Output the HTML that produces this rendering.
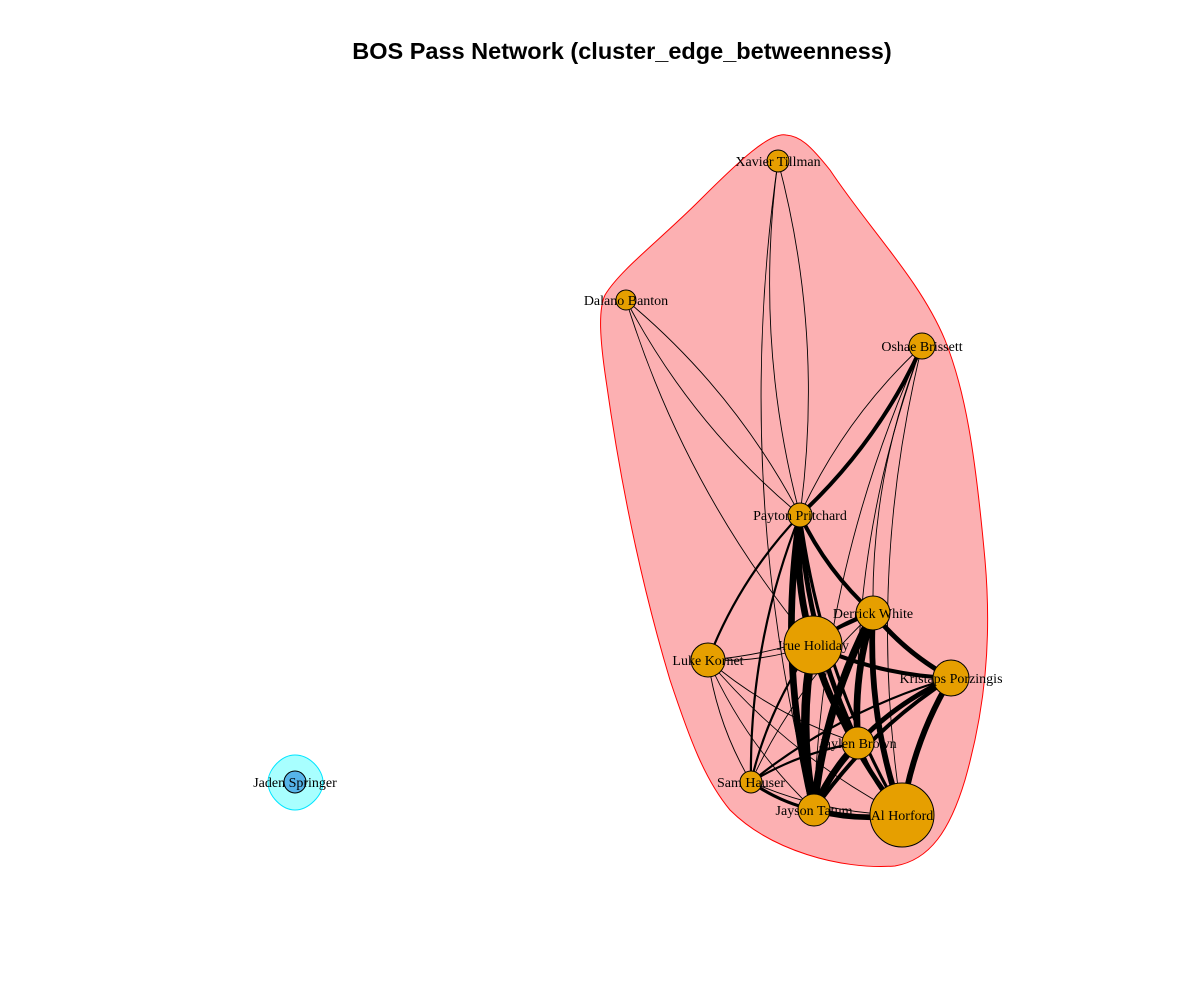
<!DOCTYPE html>
<html><head><meta charset="utf-8"><style>
body{margin:0;background:#fff}
svg{display:block}
text{font-family:"Liberation Serif",serif}
</style></head><body>
<svg id="net" width="1200" height="1000" viewBox="0 0 1200 1000">
<text x="622" y="59" text-anchor="middle" style="font-family:'Liberation Sans',sans-serif;font-weight:bold;font-size:23.5px">BOS Pass Network (cluster_edge_betweenness)</text>
<path fill="#FCB0B2" stroke="#FF0000" stroke-width="1" d="M786,135 C770,132 740,160 700,200 C660,240 620,270 605,295 C598,310 600,340 606,380 C620,480 640,580 670,680 C690,740 705,780 730,810 C770,850 840,870 895,866 C930,860 950,830 965,780 C985,710 992,640 985,560 C975,450 965,390 945,340 C920,280 870,230 830,170 C810,145 800,136 786,135 Z"/>
<path fill="#A8FFFF" stroke="#00E5FF" stroke-width="1" d="M295,755 C310,755 323,770 323,782 C323,796 308,810 295,810 C282,810 268,796 268,782 C268,770 281,755 295,755 Z"/>
<g id="edges"></g>
<g id="nodes"></g>
</svg>
<script>
const names=["Xavier Tillman","Dalano Banton","Oshae Brissett","Payton Pritchard","Derrick White","Jrue Holiday","Luke Kornet","Kristaps Porzingis","Jaylen Brown","Sam Hauser","Jayson Tatum","Al Horford","Jaden Springer"];
const nodeX=[778,626,922,800,873,813,708,951,858,751,814,902,295];
const nodeY=[161,300,346,515,613,645,660,678,743,782,810,815,782];
const nodeSize=[11,10,13,12,17,29,17,18,16,11,16,32,11];
const cluster=[0,0,0,0,0,0,0,0,0,0,0,0,1];
// [from, to, passes-weight]
const edgeFrom=[0,3,1,3,2,3,2,2,3,3,3,3,3,3,3,4,4,4,4,4,5,5,5,5,5,6,6,6,6,6,7,7,7,7,8,8,8,9,9,10,0,2,2,4,6,1];
const edgeTo  =[3,0,3,1,3,2,8,11,5,10,8,4,11,9,6,5,8,10,11,7,10,8,11,7,9,9,10,5,11,8,8,11,10,9,10,11,9,10,11,11,10,10,4,9,4,5];
const edgeW   =[1,1,1,1,1,4,1,1,7,7,5,4,3,2,2,4,7,8,6,5,9,7,5,4,2,1,1,1,1,1,5,6,4,2,7,4,2,3,1,6,1,1,1,1,1,1];
const ns="http://www.w3.org/2000/svg";
const eg=document.getElementById('edges'), ng=document.getElementById('nodes');
for(let i=0;i<edgeFrom.length;i++){
  const a=edgeFrom[i], b=edgeTo[i];
  const x1=nodeX[a],y1=nodeY[a],x2=nodeX[b],y2=nodeY[b];
  const dx=x2-x1,dy=y2-y1;
  const mx=(x1+x2)/2-dy*0.1, my=(y1+y2)/2+dx*0.1;
  const p=document.createElementNS(ns,'path');
  p.setAttribute('d',`M${x1},${y1} Q${mx},${my} ${x2},${y2}`);
  p.setAttribute('fill','none');p.setAttribute('stroke','#000');
  p.setAttribute('stroke-width',edgeW[i]===1?0.9:0.4+edgeW[i]*0.9);
  
  
  eg.appendChild(p);
}
for(let i=0;i<names.length;i++){
  const c=document.createElementNS(ns,'circle');
  c.setAttribute('cx',nodeX[i]);c.setAttribute('cy',nodeY[i]);c.setAttribute('r',nodeSize[i]);
  c.setAttribute('fill',cluster[i]?'#56B4E9':'#E69F00');c.setAttribute('stroke','#000');c.setAttribute('stroke-width','1');
  
  
  ng.appendChild(c);
}
for(let i=0;i<names.length;i++){
  const t=document.createElementNS(ns,'text');
  t.setAttribute('x',nodeX[i]);t.setAttribute('y',nodeY[i]+5);
  t.setAttribute('text-anchor','middle');t.setAttribute('font-size','14');
  t.textContent=names[i];
  
  
  ng.appendChild(t);
}
</script>
</body></html>
